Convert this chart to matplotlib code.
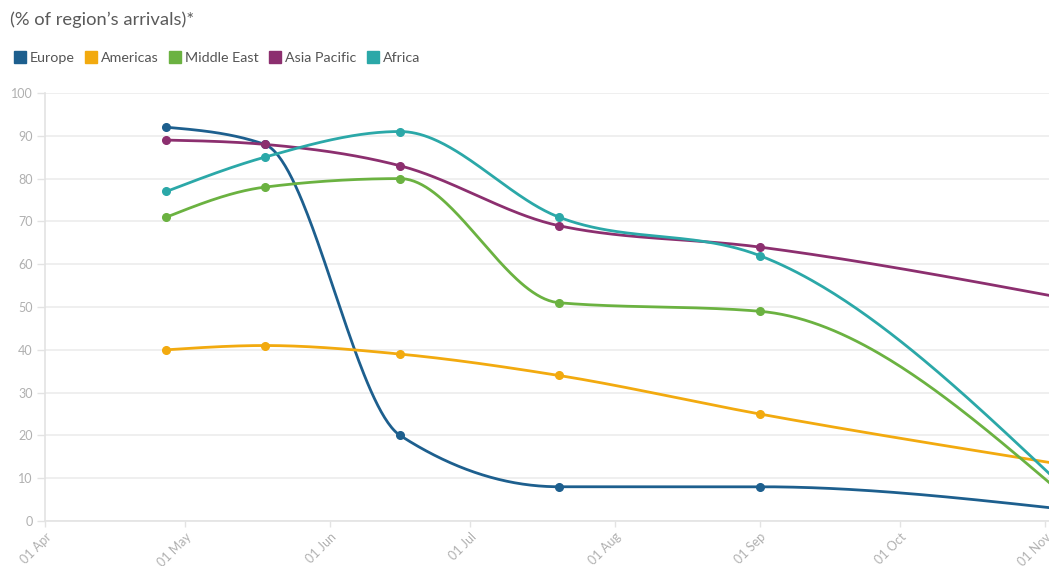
import numpy as np
import matplotlib
matplotlib.use("Agg")
import matplotlib.pyplot as plt
import matplotlib.dates as mdates
import matplotlib.transforms as mtransforms
from matplotlib.lines import Line2D
import datetime as dt

# Data (share of each region's arrivals, %)
dates = ["2020-04-27", "2020-05-18", "2020-06-16", "2020-07-20", "2020-09-01", "2020-11-03"]
regions = ["Europe", "Americas", "Middle East", "Asia Pacific", "Africa"]
europe = [92, 88, 20, 8, 8, 3]
americas = [40, 41, 39, 34, 25, 13.5]
middle_east = [71, 78, 80, 51, 49, 8]
asia_pacific = [89, 88, 83, 69, 64, 52.5]
africa = [77, 85, 91, 71, 62, 10]
colors = ["#1d5f8e", "#f2aa0f", "#6bb241", "#8c2f6f", "#2ba8a8"]

x_ticks = ["2020-04-01", "2020-05-01", "2020-06-01", "2020-07-01",
           "2020-08-01", "2020-09-01", "2020-10-01", "2020-11-01"]


def monotone_curve(x, y, n=80):
    # monotone cubic (like d3 curveMonotoneX), just for drawing the line
    x = np.asarray(x, float)
    y = np.asarray(y, float)
    h = np.diff(x)
    s = np.diff(y) / h
    m = np.zeros(len(x))
    for i in range(1, len(x) - 1):
        p = (s[i - 1] * h[i] + s[i] * h[i - 1]) / (h[i - 1] + h[i])
        m[i] = (np.sign(s[i - 1]) + np.sign(s[i])) * min(abs(s[i - 1]), abs(s[i]), 0.5 * abs(p))
    m[0] = (3 * s[0] - m[1]) / 2
    m[-1] = (3 * s[-1] - m[-2]) / 2
    xs, ys = [], []
    for i in range(len(x) - 1):
        t = np.linspace(0, 1, n)
        h00 = 2 * t**3 - 3 * t**2 + 1
        h10 = t**3 - 2 * t**2 + t
        h01 = -2 * t**3 + 3 * t**2
        h11 = t**3 - t**2
        xs.append(x[i] + t * h[i])
        ys.append(h00 * y[i] + h10 * h[i] * m[i] + h01 * y[i + 1] + h11 * h[i] * m[i + 1])
    return np.concatenate(xs), np.concatenate(ys)


plt.rcParams['font.family'] = ['Lato', 'DejaVu Sans']

fig = plt.figure(figsize=(10.49, 5.66), dpi=100)
ax = fig.add_axes([45 / 1049, 45 / 566, 1004 / 1049, 428 / 566])

xd = mdates.date2num([dt.datetime.fromisoformat(d) for d in dates])
series = [europe, americas, middle_east, asia_pacific, africa]
for vals, c in zip(series, colors):
    cx, cy = monotone_curve(xd, vals)
    ax.plot(cx, cy, color=c, lw=2.0, solid_capstyle='round', zorder=3)
    ax.plot(xd, vals, 'o', color=c, ms=5.5, zorder=4)

start = mdates.date2num(dt.datetime(2020, 4, 1))
ax.set_xlim(start, start + 214.9)
ax.set_ylim(0, 100)

tick_pos = mdates.date2num([dt.datetime.fromisoformat(d) for d in x_ticks])
ax.set_xticks(tick_pos)
ax.set_xticklabels([dt.datetime.fromisoformat(d).strftime("%d %b") for d in x_ticks],
                   rotation=45, ha='right', rotation_mode='anchor',
                   fontsize=9, color='#b0b0b0')
# nudge the rotated labels a little to the right, as in the original
shift = mtransforms.ScaledTranslation(6 / 100, 0, fig.dpi_scale_trans)
for lab in ax.get_xticklabels():
    lab.set_transform(lab.get_transform() + shift)
ax.set_yticks(range(0, 101, 10))
ax.set_yticklabels([str(v) for v in range(0, 101, 10)], fontsize=9, color='#b0b0b0')
ax.tick_params(axis='x', length=4, width=1, color='#e3e3e3', pad=3)
ax.tick_params(axis='y', length=6, width=1, color='#e3e3e3', pad=3)

ax.grid(axis='y', color='#ececec', lw=1.2)
ax.set_axisbelow(True)
for sp in ['top', 'right']:
    ax.spines[sp].set_visible(False)
ax.spines['left'].set_color('#e3e3e3')
ax.spines['bottom'].set_color('#e3e3e3')
ax.spines['left'].set_linewidth(1.2)
ax.spines['bottom'].set_linewidth(1.2)

fig.text(10 / 1049, 1 - 20 / 566, "(% of region\u2019s arrivals)*", fontsize=13.2,
         color='#5a5a5a', va='center', ha='left')

handles = [Line2D([], [], marker='s', ls='', color=c, ms=9) for c in colors]
fig.legend(handles, regions, loc='center left', bbox_to_anchor=(1 / 1049, 1 - 58 / 566),
           ncol=5, frameon=False, fontsize=10.3, handlelength=0.8, handletextpad=0.3,
           columnspacing=0.75, labelcolor='#555555')

fig.savefig("out.png", dpi=100)
